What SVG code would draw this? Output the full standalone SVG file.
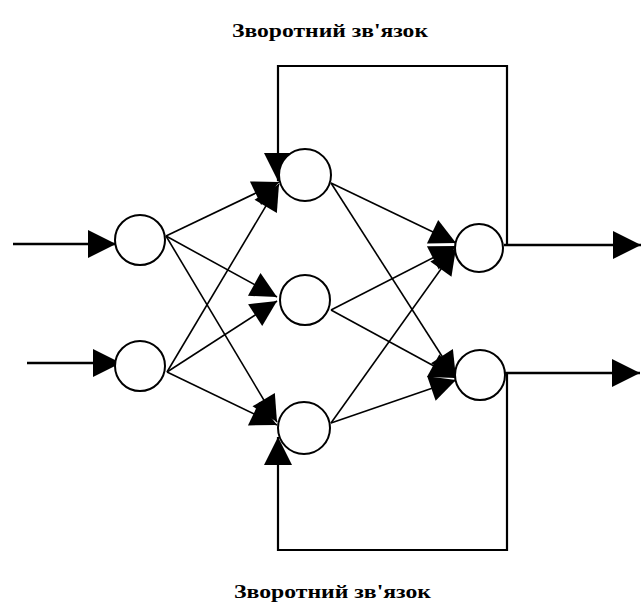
<svg xmlns="http://www.w3.org/2000/svg" width="641" height="609" viewBox="0 0 641 609">
<style>
.n{fill:#fff;stroke:#000;stroke-width:2}
.c{fill:none;stroke:#000;stroke-width:1.6}
.io{fill:none;stroke:#000;stroke-width:2.5}
.fb{fill:none;stroke:#000;stroke-width:2.2}
.t{font-family:"Liberation Serif","DejaVu Serif",serif;font-size:19px;font-weight:bold;fill:#000}
</style>
<defs>
<marker id="big" markerUnits="userSpaceOnUse" markerWidth="28" markerHeight="28" viewBox="0 0 28 28" refX="28" refY="14" orient="auto" overflow="visible"><path d="M0,0 L28,14 L0,28 z" fill="#000"/></marker>
<marker id="sm" markerUnits="userSpaceOnUse" markerWidth="26" markerHeight="26" viewBox="0 0 26 26" refX="26" refY="13" orient="auto" overflow="visible"><path d="M0,0 L26,13 L0,26 z" fill="#000"/></marker>
</defs>
<g id="connectors">
<line class="io" x1="13" y1="244" x2="116" y2="244" marker-end="url(#big)"/>
<line class="io" x1="27" y1="363" x2="121" y2="363" marker-end="url(#big)"/>
<line class="c" x1="166" y1="236" x2="279" y2="182" marker-end="url(#sm)"/>
<line class="c" x1="166" y1="236" x2="277" y2="297" marker-end="url(#sm)"/>
<line class="c" x1="166" y1="236" x2="277" y2="422" marker-end="url(#sm)"/>
<line class="c" x1="167" y1="372" x2="279" y2="184" marker-end="url(#sm)"/>
<line class="c" x1="167" y1="372" x2="277" y2="301" marker-end="url(#sm)"/>
<line class="c" x1="167" y1="372" x2="277" y2="425" marker-end="url(#sm)"/>
<line class="c" x1="331" y1="183" x2="456" y2="243" marker-end="url(#sm)"/>
<line class="c" x1="331" y1="183" x2="456" y2="378" marker-end="url(#sm)"/>
<line class="c" x1="331" y1="310" x2="456" y2="246" marker-end="url(#sm)"/>
<line class="c" x1="331" y1="310" x2="456" y2="378" marker-end="url(#sm)"/>
<line class="c" x1="331" y1="423" x2="456" y2="248" marker-end="url(#sm)"/>
<line class="c" x1="331" y1="423" x2="456" y2="380" marker-end="url(#sm)"/>
<line class="io" x1="504" y1="245" x2="641" y2="245" marker-end="url(#big)"/>
<line class="io" x1="505" y1="373" x2="640" y2="373" marker-end="url(#big)"/>
<path class="fb" d="M507,245 V66 H278 V181" marker-end="url(#big)"/>
<path class="fb" d="M507,373 V550 H278 V437" marker-end="url(#big)"/>
</g>
<g id="in1"><circle class="n" cx="140" cy="240" r="25"/></g>
<g id="in2"><circle class="n" cx="140" cy="366" r="25"/></g>
<g id="h1"><circle class="n" cx="305" cy="175" r="26"/></g>
<g id="h2"><circle class="n" cx="305" cy="300" r="25"/></g>
<g id="h3"><circle class="n" cx="304" cy="428" r="26"/></g>
<g id="o1"><circle class="n" cx="479" cy="248" r="24"/></g>
<g id="o2"><circle class="n" cx="480" cy="375" r="25"/></g>
<g id="labels">
<text class="t" x="232" y="37" textLength="196" lengthAdjust="spacingAndGlyphs">Зворотний зв'язок</text>
<text class="t" x="234" y="598" textLength="197" lengthAdjust="spacingAndGlyphs">Зворотний зв'язок</text>
</g>
</svg>
